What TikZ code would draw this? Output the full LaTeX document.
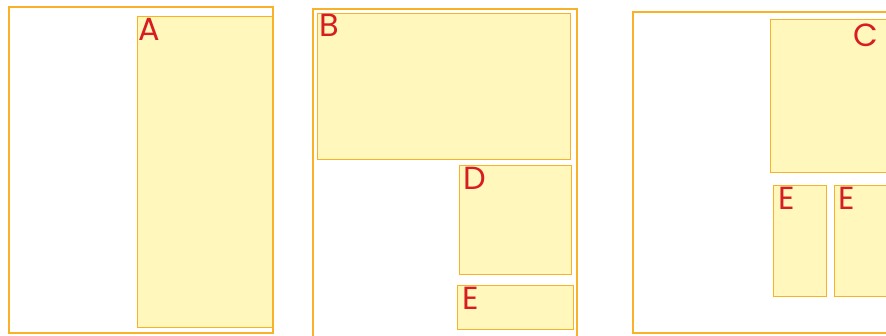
\documentclass[tikz,border=0pt]{standalone}
\usepackage{fontspec}
\setmainfont{Poppins}
\definecolor{frameor}{RGB}{249,178,40}
\definecolor{boxfill}{RGB}{255,247,188}
\definecolor{labred}{RGB}{215,28,34}
\tikzset{
  panel/.style={draw=frameor, line width=2.6pt, fill=white},
  area/.style={draw=frameor, line width=1pt, fill=boxfill},
  lab/.style={text=labred, font=\fontsize{32}{32}\selectfont, inner sep=0pt, anchor=north west}
}
\begin{document}
\begin{tikzpicture}[x=1pt,y=-1pt]
\useasboundingbox (0,0) rectangle (886,335);
\clip (0,0) rectangle (886,335);
% panel 1
\draw[panel] (9,7) rectangle (273,333);
\draw[area] (137,16) rectangle (272,327);
\node[lab] (la) at (138,18) {A};
% panel 2
\draw[panel] (313,9) rectangle (577,345);
\draw[area] (317,13) rectangle (570,159);
\node[lab] (lb) at (319,14) {B};
\draw[area] (459,165) rectangle (571,274);
\node[lab] (ld) at (463,167) {D};
\draw[area] (457,285) rectangle (573,329);
\node[lab] (le1) at (462,287) {E};
% panel 3
\draw[panel] (633,12) rectangle (895,333);
\draw[area] (770,19) rectangle (895,172);
\node[lab] (lc) at (853,24) {C};
\draw[area] (773,185) rectangle (826,296);
\node[lab] (le2) at (778,187) {E};
\draw[area] (834,185) rectangle (895,296);
\node[lab] (le3) at (838,187) {E};
\end{tikzpicture}
\end{document}
